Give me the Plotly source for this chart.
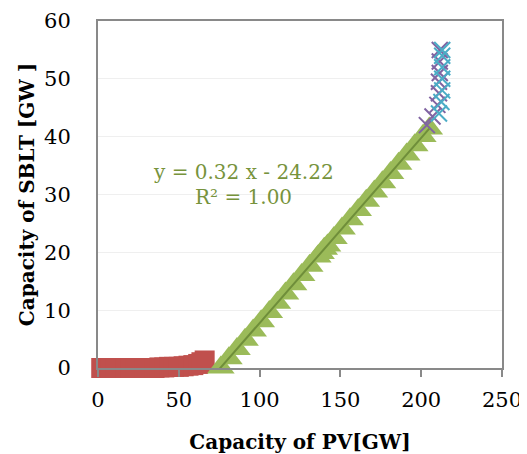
import plotly.graph_objects as go

# Series 1: red squares (near zero SBLT)
red_x = [2, 5, 8, 11, 14, 17, 20, 23, 26, 29, 32, 35, 38, 41, 44, 47, 50, 53, 56, 59, 62, 64, 66]
red_y = [0, 0, 0, 0, 0, 0, 0, 0, 0, 0, 0, 0, 0.1, 0.1, 0.2, 0.2, 0.2, 0.3, 0.4, 0.5, 0.7, 1.0, 1.3]

# Series 2: green triangles
green_x = [76, 81, 86, 91, 96, 101, 106, 111, 116, 121, 126, 131, 136, 138, 140, 142,
           146, 151, 156, 161, 166, 171, 176, 181, 186, 191, 196, 201, 205]
green_y = [0.1, 1.7, 3.3, 4.9, 6.5, 8.1, 9.7, 11.3, 12.9, 14.5, 16.1, 17.7, 19.3, 19.9, 20.6, 21.2,
           22.5, 24.1, 25.7, 27.3, 28.9, 30.5, 32.1, 33.7, 35.3, 36.9, 38.5, 40.1, 41.4]

# Series 3: purple crosses
purple_x = [203.5, 207, 210, 211, 211, 211.5, 211.5, 211.5]
purple_y = [42.0, 43.5, 45.5, 47.5, 49.5, 51.0, 53.0, 55.0]

# Series 4: cyan crosses
cyan_x = [211, 212.5, 213, 213, 213, 213, 213]
cyan_y = [44.0, 46.0, 48.0, 50.0, 52.0, 54.0, 55.0]

# Linear trendline of green series: y = 0.32 x - 24.22
trend_slope = 0.32
trend_icpt = -24.22
trend_x = [75, 205]
trend_y = [trend_slope * v + trend_icpt for v in trend_x]

x_ticks = [0, 50, 100, 150, 200, 250]
y_ticks = [0, 10, 20, 30, 40, 50, 60]

FONT = "DejaVu Serif"

fig = go.Figure()
fig.add_trace(go.Scatter(x=red_x, y=red_y, mode="markers", cliponaxis=False,
                         marker=dict(symbol="square", size=20, color="#C0504D")))
fig.add_trace(go.Scatter(x=green_x, y=green_y, mode="markers", cliponaxis=False,
                         marker=dict(symbol="triangle-up", size=24, color="#9BBB59")))
fig.add_trace(go.Scatter(x=trend_x, y=trend_y, mode="lines",
                         line=dict(color="#6F8E3A", width=2)))
fig.add_trace(go.Scatter(x=purple_x, y=purple_y, mode="markers", cliponaxis=False,
                         marker=dict(symbol="x-thin-open", size=16, color="#8064A2",
                                     line=dict(color="#8064A2", width=2))))
fig.add_trace(go.Scatter(x=cyan_x, y=cyan_y, mode="markers", cliponaxis=False,
                         marker=dict(symbol="x-thin-open", size=16, color="#4BACC6",
                                     line=dict(color="#4BACC6", width=2))))

fig.add_annotation(x=90, y=33.9, text="y = 0.32 x - 24.22", showarrow=False,
                   font=dict(family=FONT, size=20, color="#77933C"))
fig.add_annotation(x=90, y=29.6, text="R² = 1.00", showarrow=False,
                   font=dict(family=FONT, size=20, color="#77933C"))

# the page body has an 8px default margin, so the figure is sized to fit the window
fig.update_layout(
    width=519, height=446,
    margin=dict(l=90, r=25, t=13, b=86, autoexpand=False),
    paper_bgcolor="white", plot_bgcolor="white",
    showlegend=False,
    font=dict(family=FONT, color="#000000"),
)
fig.update_xaxes(range=[0, 250], tickvals=x_ticks, showgrid=False, zeroline=False,
                 automargin=False,
                 showline=True, linecolor="#898989", linewidth=2, mirror=True,
                 ticks="outside", ticklen=7, tickcolor="#898989", tickwidth=2,
                 tickfont=dict(family=FONT, size=21, color="black"),
                 ticklabelstandoff=5,
                 title=dict(text="<b>Capacity of PV[GW]</b>", standoff=31,
                            font=dict(family=FONT, size=20, color="black")))
fig.update_yaxes(range=[0, 60], tickvals=y_ticks, showgrid=True, gridcolor="#EFEFEF",
                 gridwidth=1, zeroline=False, automargin=False,
                 showline=True, linecolor="#898989", linewidth=2, mirror=True,
                 ticks="", tickfont=dict(family=FONT, size=21, color="black"),
                 ticklabelstandoff=21,
                 title=dict(text="<b>Capacity of SBLT [GW ]</b>", standoff=4,
                            font=dict(family=FONT, size=20, color="black")))

fig.write_html("out.html")
